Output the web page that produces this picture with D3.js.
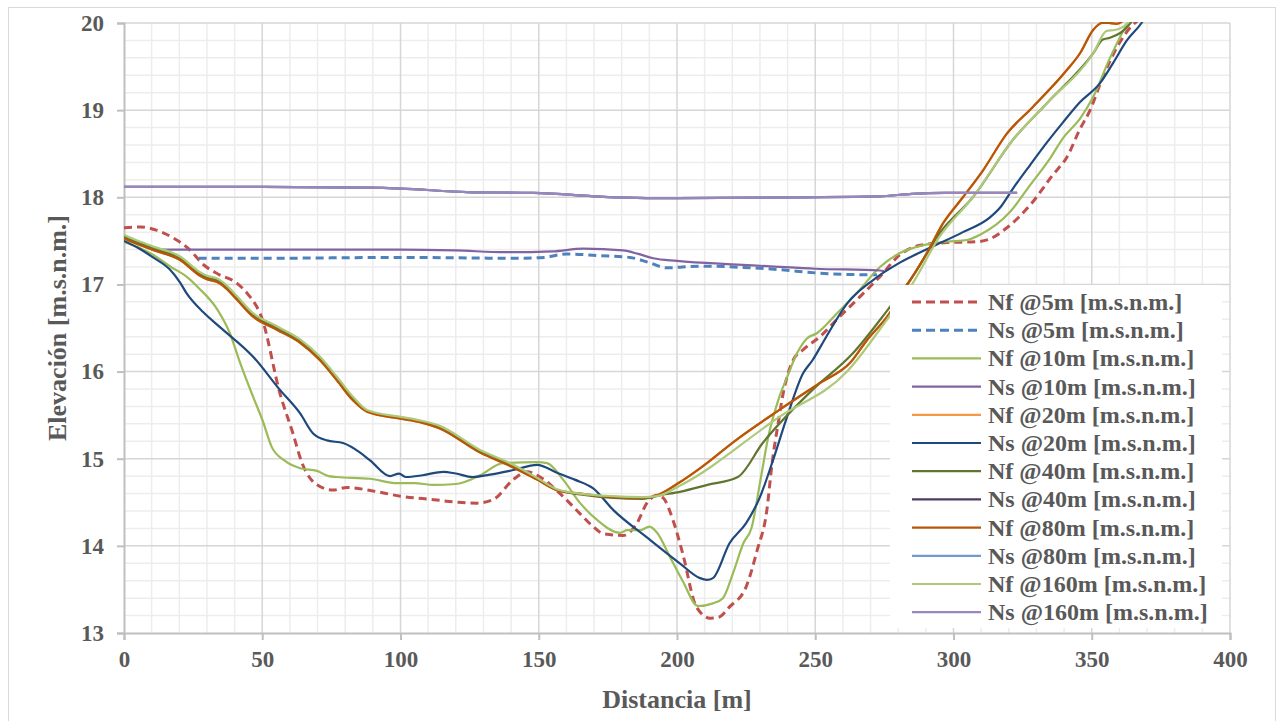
<!DOCTYPE html>
<html><head><meta charset="utf-8">
<script src="https://cdn.jsdelivr.net/npm/d3@7"></script>
<style>
html,body{margin:0;padding:0;background:#fff;}
svg text{font-family:"Liberation Serif","Times New Roman","DejaVu Serif",serif !important;font-weight:bold;fill:#595959;}
</style></head>
<body><svg id="c" width="1277" height="721"></svg>
<script>
// ---------- data ----------
const xTicks = [0,50,100,150,200,250,300,350,400];
const yTicks = [13,14,15,16,17,18,19,20];
const xLabel = "Distancia [m]";
const yLabel = "Elevación [m.s.n.m.]";
const seriesNames = ["Nf @5m [m.s.n.m.]","Ns @5m [m.s.n.m.]","Nf @10m [m.s.n.m.]","Ns @10m [m.s.n.m.]",
  "Nf @20m [m.s.n.m.]","Ns @20m [m.s.n.m.]","Nf @40m [m.s.n.m.]","Ns @40m [m.s.n.m.]",
  "Nf @80m [m.s.n.m.]","Ns @80m [m.s.n.m.]","Nf @160m [m.s.n.m.]","Ns @160m [m.s.n.m.]"];

const nf5 = [[0,17.65],[6,17.66],[12,17.62],[18,17.53],[23,17.42],[29,17.22],[34,17.12],[41,17.01],[44.5,16.9],[50,16.6],[56.4,15.75],[61,15.3],[64.4,14.95],[69.8,14.7],[75.6,14.64],[80.6,14.67],[90,14.63],[100,14.57],[112,14.53],[121,14.5],[127.6,14.49],[133.5,14.53],[140.8,14.76],[145.7,14.85],[150.5,14.79],[157.7,14.6],[164.9,14.37],[169.7,14.22],[173.3,14.14],[180.5,14.12],[185.5,14.26],[189.1,14.49],[192.8,14.58],[195,14.55],[198.5,14.3],[202,13.92],[207,13.3],[212,13.17],[215,13.18],[219,13.3],[225,13.53],[229,13.95],[232.5,14.41],[234.4,14.95],[236.6,15.41],[238.4,15.75],[242,16.13],[245.6,16.25],[251.7,16.4],[257.9,16.6],[266.2,16.86],[273.4,17.09],[280.6,17.34],[288,17.45],[297.6,17.48],[308.5,17.49],[313,17.52],[319.3,17.65],[327.7,17.91],[336,18.26],[341,18.46],[345.7,18.78],[349.4,19.0],[354,19.38],[360,19.77],[364,19.95],[367.5,20.05]];
const ns5 = [[27,17.3],[50,17.3],[100,17.31],[143,17.3],[152,17.31],[160,17.35],[172,17.33],[183,17.31],[190,17.25],[196.4,17.19],[202,17.2],[208.3,17.21],[232.5,17.18],[256.5,17.12],[272.3,17.11]];
const nf10 = [[0,17.49],[10,17.35],[17,17.2],[22.6,17.09],[27,16.96],[33.6,16.72],[38.3,16.44],[42,16.1],[46.7,15.71],[50,15.45],[53.5,15.13],[58,14.98],[63.7,14.89],[69.8,14.86],[74,14.8],[77,14.79],[89,14.77],[98.7,14.72],[105,14.72],[112,14.7],[120,14.71],[128.8,14.81],[137,14.95],[149.4,14.96],[153,14.95],[158.8,14.76],[165,14.49],[171,14.3],[179.4,14.15],[182,14.18],[186.6,14.18],[190,14.22],[192.8,14.15],[197.5,13.87],[202,13.6],[207.6,13.31],[213,13.34],[216.6,13.4],[220.3,13.69],[224,14.03],[227,14.21],[230,14.72],[233,15.25],[236.6,15.67],[240,15.95],[243.4,16.21],[247,16.38],[250.6,16.44],[257.9,16.67],[265,16.9],[273.4,17.2],[280.6,17.36],[289,17.45],[297.6,17.49],[304.9,17.51],[309.6,17.57],[320.4,17.83],[327.7,18.14],[335,18.45],[339.6,18.68],[345.7,18.9],[350.5,19.15],[356.6,19.6],[363,20.0],[365,20.1]];
const ns10 = [[10,17.4],[50,17.4],[100,17.4],[120,17.39],[138,17.37],[155,17.38],[166,17.41],[180.5,17.39],[186,17.35],[191.4,17.3],[200,17.27],[220,17.23],[232.5,17.21],[250,17.18],[273.4,17.16],[275,17.15]];
const nf20 = [[0,17.53],[5,17.46],[10,17.4],[20.3,17.28],[27.5,17.1],[30,17.06],[33.5,17.03],[36,16.98],[40.7,16.83],[46.7,16.63],[55.3,16.48],[63.7,16.33],[70.9,16.13],[77,15.9],[82.8,15.67],[87.9,15.54],[100,15.46],[107,15.42],[114,15.35],[128.8,15.07],[140.8,14.9],[149.4,14.76],[156.6,14.64],[165,14.6],[177,14.56],[187.7,14.55],[192.8,14.58],[201,14.73],[208.3,14.89],[221.6,15.22],[237,15.56],[251.7,15.87],[262.6,16.1],[268.7,16.36],[276,16.63],[283,16.98],[290.4,17.36],[296.2,17.7],[303.4,18.0],[310.7,18.31],[319.3,18.73],[328.8,19.04],[341,19.46],[345.7,19.65],[350.5,19.92],[353.7,20.0],[356,20.0],[359,19.99],[362,20.05],[365,20.2]];
const ns20 = [[0,17.5],[5,17.42],[10.5,17.31],[16.6,17.17],[20.3,17.02],[22.6,16.9],[28.7,16.68],[34.7,16.51],[46.7,16.17],[56.4,15.79],[63.7,15.52],[68.4,15.29],[73.4,15.21],[79.2,15.18],[85.4,15.07],[89,14.98],[96.2,14.8],[99.5,14.83],[102,14.79],[108,14.81],[115.5,14.85],[120,14.83],[126,14.79],[133,14.82],[140.8,14.87],[149.4,14.93],[156.6,14.84],[163,14.76],[169.7,14.66],[177,14.41],[189,14.1],[201,13.8],[208.3,13.63],[210.8,13.61],[213,13.63],[219,14.03],[225,14.26],[230,14.56],[234.7,14.98],[239.8,15.48],[245.6,15.98],[249,16.13],[254,16.4],[261.5,16.78],[270.9,17.05],[280.6,17.25],[291.5,17.42],[303.4,17.6],[313.2,17.77],[316.8,17.88],[321.5,18.1],[327.7,18.37],[333.8,18.63],[339.6,18.86],[345.7,19.09],[353,19.31],[357.7,19.54],[362.7,19.8],[368,20.0],[370,20.1]];
const nf40 = [[0,17.55],[5,17.48],[10,17.42],[20.3,17.3],[27.5,17.12],[30,17.08],[33.5,17.05],[36,17.0],[40.7,16.85],[46.7,16.65],[55.3,16.5],[63.7,16.35],[70.9,16.15],[77,15.92],[82.8,15.69],[87.9,15.55],[100,15.47],[107,15.43],[114,15.36],[128.8,15.08],[140.8,14.91],[149.4,14.77],[156.6,14.64],[165,14.59],[177,14.55],[187.7,14.54],[193.8,14.58],[201,14.62],[211,14.7],[222,14.79],[231,15.18],[249,15.79],[263.6,16.21],[276,16.7],[285.4,17.1],[295,17.59],[307,18.0],[321.5,18.66],[333.8,19.08],[350.5,19.65],[354,19.81],[356.6,19.83],[364,20.0],[366,20.1]];
const nsUpper = [[0,18.12],[50,18.12],[88,18.11],[100,18.1],[124,18.06],[148,18.05],[178,18.0],[200,17.99],[244,18.0],[273,18.01],[285,18.04],[297,18.05],[323,18.05]];
const nf80 = [[0,17.53],[5,17.46],[10,17.4],[20.3,17.28],[27.5,17.1],[30,17.06],[33.5,17.03],[36,16.98],[40.7,16.83],[46.7,16.63],[55.3,16.48],[63.7,16.33],[70.9,16.13],[77,15.9],[82.8,15.67],[87.9,15.54],[100,15.46],[107,15.42],[114,15.35],[128.8,15.07],[140.8,14.9],[149.4,14.76],[156.6,14.64],[165,14.6],[177,14.56],[187.7,14.55],[192.8,14.58],[201,14.73],[208.3,14.89],[221.6,15.22],[237,15.56],[251.7,15.87],[262.6,16.1],[268.7,16.36],[276,16.63],[283,16.98],[290.4,17.36],[296.2,17.7],[303.4,18.0],[310.7,18.31],[319.3,18.73],[328.8,19.04],[341,19.46],[345.7,19.65],[350.5,19.92],[353.7,20.0],[356,20.0],[359,19.99],[362,20.05],[365,20.2]];
const nf160 = [[0,17.57],[5,17.5],[10,17.44],[20.3,17.32],[27.5,17.14],[30,17.1],[33.5,17.07],[36,17.02],[40.7,16.87],[46.7,16.67],[55.3,16.52],[63.7,16.37],[70.9,16.17],[77,15.94],[82.8,15.71],[87.9,15.56],[100,15.48],[107,15.44],[114,15.38],[128.8,15.1],[140.8,14.93],[149.4,14.78],[156.6,14.65],[165,14.6],[177,14.57],[187.7,14.56],[192.8,14.57],[201,14.69],[237,15.48],[261.5,16.0],[276,16.6],[285,17.0],[295,17.55],[307,18.0],[321.5,18.66],[333.8,19.08],[350.5,19.65],[355.4,19.91],[358.4,19.92],[363,20.0],[365,20.1]];

const seriesData = [nf5, ns5, nf10, ns10, nf20, ns20, nf40, nsUpper, nf80, nsUpper, nf160, nsUpper];
const seriesColors = ["#C0504D","#4F81BD","#9BBB59","#8064A2","#F79646","#1F497D","#5F7530","#4D3B62","#B65708","#729ACA","#AFC97A","#9B86BC"];
const seriesDash = [true,true,false,false,false,false,false,false,false,false,false,false];

// ---------- layout ----------
const FONT = "'Liberation Serif','Times New Roman','DejaVu Serif',serif";
const svg = d3.select("#c");
const L=124, R=1230, T=23, B=633;
const x = d3.scaleLinear().domain([0,400]).range([L,R]);
const y = d3.scaleLinear().domain([13,20]).range([B,T]);

svg.append("rect").attr("x",8.5).attr("y",7.5).attr("width",1267).attr("height",720)
  .attr("fill","#fff").attr("stroke","#D9D9D9").attr("stroke-width",1);

// minor grid
const g = svg.append("g");
g.selectAll(".vm").data(d3.range(10,400,10).filter(v=>v%50)).join("line")
  .attr("x1",d=>x(d)).attr("x2",d=>x(d)).attr("y1",T).attr("y2",B)
  .attr("stroke","#EDEDED").attr("stroke-width",1.5);
g.selectAll(".hm").data(d3.range(13.2,20,0.2).filter(v=>Math.abs(v-Math.round(v))>0.05)).join("line")
  .attr("y1",d=>y(d)).attr("y2",d=>y(d)).attr("x1",L).attr("x2",R)
  .attr("stroke","#EDEDED").attr("stroke-width",1.5);
// major grid
g.selectAll(".vM").data(xTicks.slice(1)).join("line")
  .attr("x1",d=>x(d)).attr("x2",d=>x(d)).attr("y1",T).attr("y2",B)
  .attr("stroke","#D6D6D6").attr("stroke-width",1.5);
g.selectAll(".hM").data(yTicks.slice(1)).join("line")
  .attr("y1",d=>y(d)).attr("y2",d=>y(d)).attr("x1",L).attr("x2",R)
  .attr("stroke","#D6D6D6").attr("stroke-width",1.5);

// axes
const xa = svg.append("g").attr("transform",`translate(0,${B})`)
  .call(d3.axisBottom(x).tickValues(xTicks).tickFormat(d3.format("d")).tickSize(7).tickPadding(11));
const ya = svg.append("g").attr("transform",`translate(${L},0)`)
  .call(d3.axisLeft(y).tickValues(yTicks).tickFormat(d3.format("d")).tickSize(7).tickPadding(13));
[xa,ya].forEach(a=>{
  a.attr("font-family",FONT).attr("font-size",23);
  a.select(".domain").attr("stroke","#BFBFBF").attr("stroke-width",2);
  a.selectAll(".tick line").attr("stroke","#BFBFBF").attr("stroke-width",2);
  a.selectAll(".tick text").attr("font-family",FONT).style("font-family",FONT).style("font-weight","bold")
   .style("font-size","23px").attr("fill","#595959");
});

// lines
svg.append("clipPath").attr("id","clip").append("rect").attr("x",L).attr("y",T-1).attr("width",R-L).attr("height",B-T+1);
const line = d3.line().x(d=>x(d[0])).y(d=>y(d[1])).curve(d3.curveMonotoneX);
const lg = svg.append("g").attr("clip-path","url(#clip)");
seriesData.forEach((d,i)=>{
  lg.append("path").datum(d).attr("d",line).attr("fill","none")
    .attr("stroke",seriesColors[i]).attr("stroke-width",seriesDash[i]?3:2.2)
    .attr("stroke-dasharray",seriesDash[i]?"8,5":null)
    .attr("stroke-linejoin","round");
});

// axis titles
svg.append("text").attr("x",(L+R)/2).attr("y",708).attr("text-anchor","middle")
  .style("font-family",FONT).style("font-size","26px").text(xLabel);
svg.append("text").attr("transform",`translate(66,${(T+B)/2}) rotate(-90)`).attr("text-anchor","middle")
  .style("font-family",FONT).style("font-size","26px").text(yLabel);

// legend
const leg = svg.append("g");
leg.append("rect").attr("x",890).attr("y",285).attr("width",332).attr("height",343).attr("fill","#fff");
seriesNames.forEach((n,i)=>{
  const yy = 302 + i*28.2;
  leg.append("line").attr("x1",912).attr("x2",981).attr("y1",yy).attr("y2",yy)
    .attr("stroke",seriesColors[i]).attr("stroke-width",seriesDash[i]?3:2.2)
    .attr("stroke-dasharray",seriesDash[i]?"9,5":null);
  leg.append("text").attr("x",988).attr("y",yy+8).style("font-family",FONT).style("font-size","24px").text(n);
});
</script></body></html>
